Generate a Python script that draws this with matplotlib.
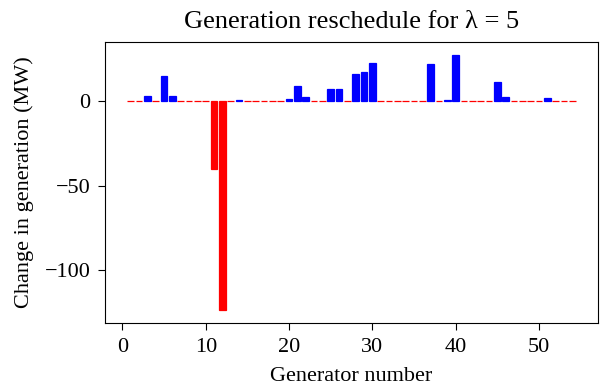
import matplotlib
matplotlib.use('Agg')
import matplotlib.pyplot as plt
import numpy as np

# change in generation per generator (MW)
generators = list(range(1, 55))
change = [0, 0, 2.5, 0, 14.3, 2.5, 0, 0, 0, 0,
          -40, -123.5, 0, 0.5, 0, 0, 0, 0, 0, 0.8,
          8.4, 2, 0, 0, 6.6, 6.6, 0, 16, 16.7, 22,
          0, 0, 0, 0, 0, 0, 21.5, 0, 0.5, 27,
          0, 0, 0, 0, 11.2, 2, 0, 0, 0, 0,
          1.4, 0, 0, 0]

plt.rcParams['font.family'] = ['Liberation Serif', 'DejaVu Serif']
plt.rcParams['font.size'] = 16

colors = ['blue' if v > 0 else 'red' for v in change]

fig, ax = plt.subplots(figsize=(6, 3.86), dpi=100)
ax.bar(generators, change, color=colors, edgecolor=colors, linewidth=0.9)
ax.set_title('Generation reschedule for λ = 5', fontsize=19, pad=10)
ax.set_xlabel('Generator number', labelpad=7.5)
ax.set_ylabel('Change in generation (MW)', labelpad=7.5)
ax.set_xticks([0, 10, 20, 30, 40, 50])
ax.set_yticks([0, -50, -100])
ax.tick_params(length=5, pad=5.5)
plt.subplots_adjust(left=0.175, right=0.997, bottom=0.163, top=0.891)
plt.savefig('out.png')
